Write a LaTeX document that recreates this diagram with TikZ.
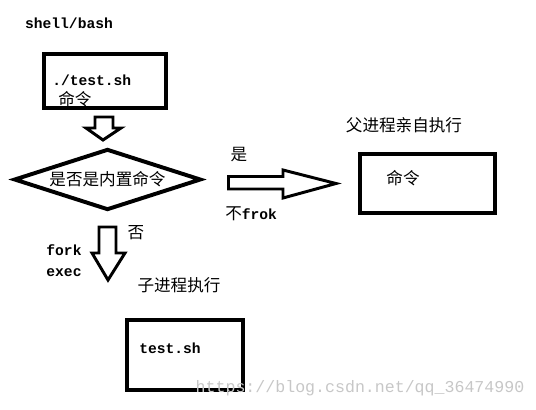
\documentclass[tikz,border=0pt]{standalone}
\usepackage{fontspec}
\setmonofont{Liberation Mono}
\newfontfamily\cjk{Noto Sans CJK SC}
\usepackage{tikz}
\usetikzlibrary{positioning,shapes.geometric}

\begin{document}
\begin{tikzpicture}[
  x=0.025cm, y=-0.025cm,
  box/.style={draw=black, line width=2.8pt, rectangle, inner sep=0pt},
  decide/.style={draw=black, line width=2.8pt, diamond, aspect=3, inner sep=0pt,
    minimum width=4.675cm, minimum height=1.525cm, font=\cjk\fontsize{11.8}{12}\selectfont},
  latin/.style={font=\ttfamily\bfseries\fontsize{10.4}{12}\selectfont, inner sep=0pt},
  hanzi/.style={font=\cjk\fontsize{11.8}{12}\selectfont, inner sep=0pt},
  blockarrow/.style={draw=black, line width=2.1pt, line join=miter, fill=white},
  watermark/.style={font=\ttfamily\fontsize{11.8}{12}\selectfont, text=black!22, inner sep=0pt},
]
\useasboundingbox (0,0) rectangle (536,409);

% ---------- Title ----------
\node[latin] (shell) at (69,23) {shell/bash};

% ---------- Boxes ----------
\node[box, minimum width=3.05cm, minimum height=1.35cm] (cmdbox) at (105,81) {};
\node[latin, anchor=west] (cmdsh) at (52,80) {./test.sh};
\node[hanzi, anchor=west] (cmdcn) at (58,99) {命令};

\node[box, minimum width=3.375cm, minimum height=1.475cm] (parentbox) at (427.5,183.5) {};
\node[hanzi] (parentcmd) at (403,178) {命令};

\node[box, minimum width=2.9cm, minimum height=1.75cm] (childbox) at (185,355) {};
\node[latin] (childsh) at (170,348) {test.sh};

% ---------- Decision ----------
\node[decide] (builtin) at (107.5,179.5) {是否是内置命令};

% ---------- Block arrows ----------
% into the decision
\draw[blockarrow] (95,117) -- (113,117) -- (113,128) -- (121,128) -- (103,140)
  -- (86,128) -- (95,128) -- cycle;
% yes: run in parent
\draw[blockarrow] (228.5,176.5) -- (283,176.5) -- (283,170) -- (336,183.5)
  -- (283,198) -- (283,189) -- (228.5,189) -- cycle;
% no: fork + exec
\draw[blockarrow] (99,227) -- (116,227) -- (116,253) -- (125,253) -- (108,280)
  -- (92,253) -- (99,253) -- cycle;

% ---------- Labels ----------
\node[hanzi] (yes) at (239,155) {是};
\node[anchor=west, inner sep=0pt] (nofork) at (225,214)
  {\cjk\fontsize{11.8}{12}\selectfont 不\ttfamily\bfseries\fontsize{10.4}{12}\selectfont frok};
\node[hanzi] (parentlbl) at (404,125) {父进程亲自执行};
\node[hanzi] (no) at (136,233) {否};
\node[latin] (fork) at (64,250) {fork};
\node[latin] (exec) at (64,273) {exec};
\node[hanzi] (childlbl) at (179,285) {子进程执行};

\node[watermark] (wm) at (360,388) {https://blog.csdn.net/qq\_36474990};

\end{tikzpicture}
\end{document}
